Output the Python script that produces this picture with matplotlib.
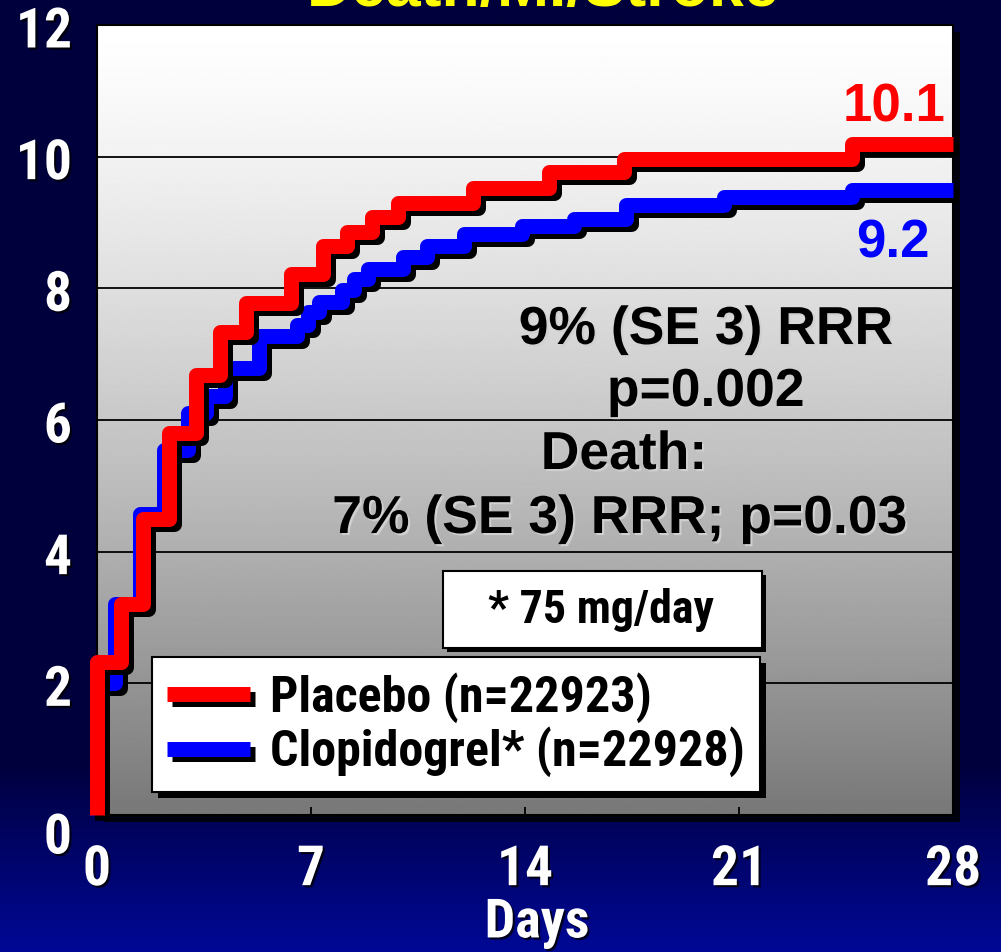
import numpy as np
import matplotlib
matplotlib.use('Agg')
import matplotlib.pyplot as plt
import matplotlib.patheffects as pe
import matplotlib.transforms as mtransforms
from matplotlib.lines import Line2D
from matplotlib.patches import Rectangle
from matplotlib import font_manager as fm

# ---------------- data ----------------
placebo_days = [0, 0.77, 1.52, 2.35, 3.23, 4.03, 4.87, 6.36, 7.39, 8.18, 9.0, 9.85,
                12.3, 14.77, 17.23, 24.7]
placebo_vals = [2.32, 3.2, 4.5, 5.8, 6.68, 7.34, 7.78, 8.22, 8.65, 8.86, 9.09, 9.3,
                9.53, 9.76, 9.97, 10.19]
clopi_days = [0, 0.6, 1.4, 2.19, 2.98, 3.55, 4.2, 5.3, 6.54, 6.9, 7.25, 8.0, 8.4,
              8.85, 10.0, 10.8, 12.0, 13.9, 15.6, 17.3, 20.5, 24.7]
clopi_vals = [2.0, 3.2, 4.57, 5.55, 6.1, 6.37, 6.79, 7.28, 7.44, 7.64, 7.79, 7.97,
              8.14, 8.3, 8.47, 8.65, 8.83, 8.94, 9.05, 9.27, 9.39, 9.5]
x_ticks = [0, 7, 14, 21, 28]
y_ticks = [0, 2, 4, 6, 8, 10, 12]
series_labels = ['Placebo (n=22923)', 'Clopidogrel* (n=22928)']
end_labels = ['10.1', '9.2']
title = 'Death/MI/Stroke'

# ---------------- setup ----------------
W, H = 1001, 952
fig = plt.figure(figsize=(W / 100, H / 100), dpi=100)

def fx(x):
    return x / W

def fy(y):
    return 1 - y / H

# find a narrow / condensed bold font if available
def find_narrow():
    best = None
    for f in fm.fontManager.ttflist:
        nm = f.name
        fname = f.fname
        low = (nm + ' ' + fname).lower()
        is_narrow = ('narrow' in low or 'condensed' in low or 'cond' in low.split('/')[-1]
                     or str(f.stretch) in ('condensed', 'semi-condensed', 'extra-condensed',
                                           'ultra-condensed'))
        if not is_narrow:
            continue
        try:
            wt = int(f.weight)
        except Exception:
            wt = 700 if 'bold' in str(f.weight).lower() else 400
        if wt < 600:
            continue
        if 'italic' in str(f.style).lower() or 'oblique' in str(f.style).lower():
            continue
        if 'italic' in fname.lower() or 'oblique' in fname.lower():
            continue
        score = 0
        if 'liberation' in low:
            score = 5
        elif 'roboto' in low:
            score = 4
        elif 'open' in low:
            score = 3
        elif 'noto' in low:
            score = 2
        elif 'dejavu' in low:
            score = 1
        if best is None or score > best[0]:
            best = (score, fname)
    return best[1] if best else None

narrow_file = find_narrow()
if narrow_file:
    def NFP(size):
        return fm.FontProperties(fname=narrow_file, size=size)
    NSCALE = 1.0
else:
    def NFP(size):
        return fm.FontProperties(family='Liberation Sans', weight='bold', size=size * 0.84)
    NSCALE = 0.84

BOLD = 'Liberation Sans'

# background gradient (navy -> blue at bottom)
bg = fig.add_axes([0, 0, 1, 1], zorder=-10)
bg.set_axis_off()
t = np.linspace(0, 1, 400)[:, None]
top_c = np.array([0x00, 0x00, 0x3c]) / 255
bot_c = np.array([0x00, 0x08, 0x95]) / 255
w = np.clip((t - 0.80) / 0.20, 0, 1)
grad = top_c * (1 - w) + bot_c * w
bg.imshow(grad[:, None, :], aspect='auto', extent=(0, 1, 0, 1), origin='upper')
bg.set_xlim(0, 1)
bg.set_ylim(0, 1)

# plot area shadow
fig.patches.append(Rectangle((fx(104), fy(822)), 856 / W, 790 / H,
                             transform=fig.transFigure, facecolor='#00000f',
                             edgecolor='none', zorder=-5))

ax = fig.add_axes([fx(97), fy(815), 856 / W, 790 / H])
ax.set_xlim(0, 28)
ax.set_ylim(0, 12)

# plot area gradient
g = np.linspace(0, 1, 400)[:, None]
gray = 1 - 0.53 * g ** 1.3
ax.imshow(gray, cmap='gray', vmin=0, vmax=1, extent=(0, 28, 0, 12),
          aspect='auto', origin='upper', zorder=0)

for yv in y_ticks[1:-1]:
    ax.axhline(yv, color='black', lw=1.3, zorder=1)

def step_xy(days, vals):
    return np.r_[0, days, 28], np.r_[0, vals, vals[-1]]

LW = 10.8
shadow = [pe.SimpleLineShadow(offset=(3.6, -3.6), shadow_color='black', alpha=1.0),
          pe.Normal()]

bx, by = step_xy(clopi_days, clopi_vals)
ax.plot(bx, by, drawstyle='steps-post', color='#0000ff', lw=LW,
        solid_joinstyle='round', solid_capstyle='butt', clip_on=False,
        path_effects=shadow, zorder=3)
rx, ry = step_xy(placebo_days, placebo_vals)
ax.plot(rx, ry, drawstyle='steps-post', color='#ff0000', lw=LW,
        solid_joinstyle='round', solid_capstyle='butt', clip_on=False,
        path_effects=shadow, zorder=4)

for s in ax.spines.values():
    s.set_color('black')
    s.set_linewidth(1.5)

# ticks
txt_shadow = [pe.withSimplePatchShadow(offset=(1.5, -1.5), shadow_rgbFace='black', alpha=0.8)]
ax.set_xticks(x_ticks)
ax.set_yticks(y_ticks)
ax.set_xticklabels([str(v) for v in x_ticks])
ax.set_yticklabels([str(v) for v in y_ticks])
ax.tick_params(axis='x', direction='in', length=6, width=1.3, color='black',
               pad=21, labelcolor='white')
ax.tick_params(axis='y', length=0, pad=18, labelcolor='white')
for lab in ax.get_xticklabels():
    lab.set_fontproperties(NFP(40))
    lab.set_path_effects(txt_shadow)
for lab in ax.get_yticklabels():
    lab.set_fontproperties(NFP(40))
    lab.set_path_effects(txt_shadow)
    lab.set_transform(lab.get_transform() +
                      mtransforms.ScaledTranslation(0, -0.02, fig.dpi_scale_trans))
y0 = ax.get_yticklabels()[0]
y0.set_transform(y0.get_transform() +
                 mtransforms.ScaledTranslation(0, -0.16, fig.dpi_scale_trans))

ax.set_xlabel('Days', color='white', fontproperties=NFP(39), path_effects=txt_shadow,
              va='baseline')
ax.xaxis.set_label_coords(0.514, -0.155)

# legend
handles = [Line2D([], [], color='#ff0000', lw=LW, solid_capstyle='butt', path_effects=shadow),
           Line2D([], [], color='#0000ff', lw=LW, solid_capstyle='butt', path_effects=shadow)]
leg = ax.legend(handles, series_labels, loc='upper left',
                bbox_to_anchor=(fx(152), fy(657)), bbox_transform=fig.transFigure,
                prop=NFP(36),
                frameon=True, fancybox=False, edgecolor='black', facecolor='white',
                framealpha=1, borderpad=0.3, labelspacing=0.08,
                handlelength=1.65 / NSCALE, handletextpad=0.42 / NSCALE, borderaxespad=0)
leg.get_frame().set_linewidth(1.5)
leg.get_frame().set_path_effects([pe.withSimplePatchShadow(offset=(4, -4),
                                                           shadow_rgbFace='black', alpha=1)])
leg.set_zorder(10)

# dose box
box = Rectangle((fx(443), fy(648)), 319 / W, 77 / H, transform=fig.transFigure,
                facecolor='white', edgecolor='black', lw=1.5, clip_on=False, zorder=8,
                path_effects=[pe.withSimplePatchShadow(offset=(3, -3),
                                                       shadow_rgbFace='black', alpha=1)])
ax.add_patch(box)
ax.text(fx(601), fy(610), '* 75 mg/day', transform=fig.transFigure, ha='center',
        va='center', fontproperties=NFP(33), zorder=9)

# annotations
ann_shadow = [pe.withSimplePatchShadow(offset=(1.5, -1.5), shadow_rgbFace='#d0d0d0', alpha=1)]
ann = [('9% (SE 3) RRR', 706, 330), ('p=0.002', 706, 392), ('Death:', 624, 455),
       ('7% (SE 3) RRR; p=0.03', 620, 519)]
for s, x, y in ann:
    ax.text(fx(x), fy(y), s, transform=fig.transFigure, ha='center', va='center',
            fontsize=38.5, fontweight='bold', family=BOLD, color='black', zorder=7,
            path_effects=ann_shadow)
ax.text(fx(894), fy(108), end_labels[0], transform=fig.transFigure, ha='center',
        va='center', fontsize=38, fontweight='bold', family=BOLD, color='#ff0000', zorder=7)
ax.text(fx(893), fy(244), end_labels[1], transform=fig.transFigure, ha='center',
        va='center', fontsize=38, fontweight='bold', family=BOLD, color='#0000ff', zorder=7)

# title (mostly cut off at top)
fig.text(fx(543), fy(6), title, ha='center', va='baseline', fontsize=45,
         fontweight='bold', family=BOLD, color='#ffff00')

fig.savefig('out.png', dpi=100, facecolor='#00003c')
